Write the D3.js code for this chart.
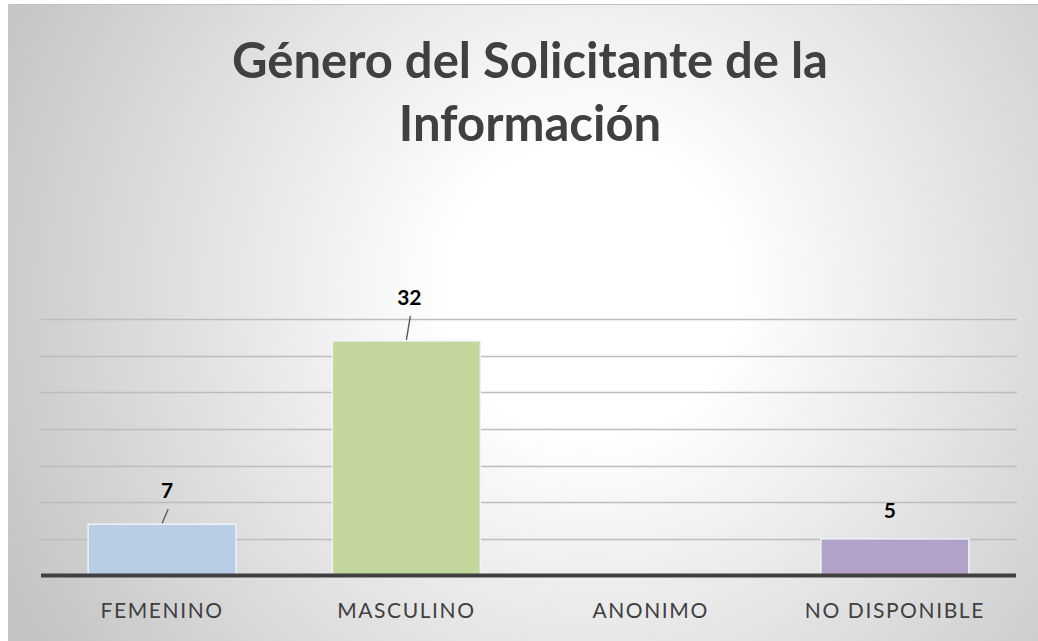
<!DOCTYPE html>
<html>
<head>
<meta charset="utf-8">
<script src="https://cdn.jsdelivr.net/npm/d3@7"></script>
<style>
  body { margin: 0; background: #fff; }
  svg { display: block; }
</style>
</head>
<body>
<svg></svg>
<script>
const width = 1038;
const height = 641;

const categories = ["FEMENINO", "MASCULINO", "ANONIMO", "NO DISPONIBLE"];
const values = [7, 32, 0, 5];
const colors = ["#b9cde5", "#c3d69b", "#ccc1da", "#b3a2c7"];
const gridTicks = [5, 10, 15, 20, 25, 30, 35];
const titleLines = ["Género del Solicitante de la", "Información"];

const font = "Lato, 'Open Sans', sans-serif";

const svg = d3.select("svg")
  .attr("width", width)
  .attr("height", height);

const defs = svg.append("defs");
const grad = defs.append("radialGradient")
  .attr("id", "bg")
  .attr("gradientUnits", "userSpaceOnUse")
  .attr("cx", 590).attr("cy", 290).attr("r", 650);
grad.append("stop").attr("offset", 0).attr("stop-color", "#ffffff");
grad.append("stop").attr("offset", 0.22).attr("stop-color", "#ffffff");
grad.append("stop").attr("offset", 1).attr("stop-color", "#c4c4c4");

// chart area
svg.append("rect")
  .attr("x", 8).attr("y", 4)
  .attr("width", width - 8).attr("height", height - 4)
  .attr("fill", "url(#bg)");
svg.append("line")
  .attr("x1", 8).attr("x2", width)
  .attr("y1", 4.5).attr("y2", 4.5)
  .attr("stroke", "#c0c0c0");

const x = d3.scaleBand()
  .domain(categories)
  .range([40, 1017])
  .paddingInner(0.394)
  .paddingOuter(0.197);

const y = d3.scaleLinear()
  .domain([0, 35])
  .range([575.5, 319]);

// gridlines
svg.append("g")
  .selectAll("line")
  .data(gridTicks)
  .join("line")
  .attr("x1", 40).attr("x2", 1017)
  .attr("y1", d => Math.round(y(d)) + 0.5)
  .attr("y2", d => Math.round(y(d)) + 0.5)
  .attr("stroke", "#bdbdbd")
  .attr("stroke-width", 1.3);

// bars
svg.append("g")
  .selectAll("rect")
  .data(values)
  .join("rect")
  .attr("x", (d, i) => x(categories[i]))
  .attr("y", d => y(d))
  .attr("width", x.bandwidth())
  .attr("height", d => y(0) - y(d))
  .attr("fill", (d, i) => colors[i])
  .attr("stroke", (d, i) => d > 0 ? "#eef3f7" : "none")
  .attr("stroke-width", 1.5);

// axis baseline
svg.append("line")
  .attr("x1", 41).attr("x2", 1016)
  .attr("y1", y(0)).attr("y2", y(0))
  .attr("stroke", "#404040")
  .attr("stroke-width", 4);

// category labels
svg.append("g")
  .selectAll("text")
  .data(categories)
  .join("text")
  .attr("x", d => x(d) + x.bandwidth() / 2)
  .attr("y", 618)
  .attr("text-anchor", "middle")
  .attr("font-family", font)
  .attr("font-size", 21)
  .attr("letter-spacing", 1.6)
  .attr("fill", "#404040")
  .text(d => d);

// data labels (nonzero), placed like the callouts in the original
const labelShift = [[5, 26], [3, 36], [0, 0], [-5, 21]];
const labels = svg.append("g");
values.forEach((v, i) => {
  if (v === 0) return;
  const cx = x(categories[i]) + x.bandwidth() / 2;
  labels.append("text")
    .attr("x", cx + labelShift[i][0])
    .attr("y", y(v) - labelShift[i][1])
    .attr("text-anchor", "middle")
    .attr("font-family", font)
    .attr("font-weight", "bold")
    .attr("font-size", 21)
    .attr("fill", "#000")
    .text(v);
  if (i !== 3) {
    labels.append("line")
      .attr("x1", cx + labelShift[i][0] + 1).attr("y1", y(v) - labelShift[i][1] + 11)
      .attr("x2", cx).attr("y2", y(v) - 1)
      .attr("stroke", "#595959")
      .attr("stroke-width", 1.4);
  }
});

// title
svg.append("text")
  .attr("text-anchor", "middle")
  .attr("font-family", font)
  .attr("font-weight", "bold")
  .attr("font-size", 49)
  .attr("fill", "#404040")
  .selectAll("tspan")
  .data(titleLines)
  .join("tspan")
  .attr("x", 530)
  .attr("y", (d, i) => 78 + i * 63)
  .text(d => d);
</script>
</body>
</html>
